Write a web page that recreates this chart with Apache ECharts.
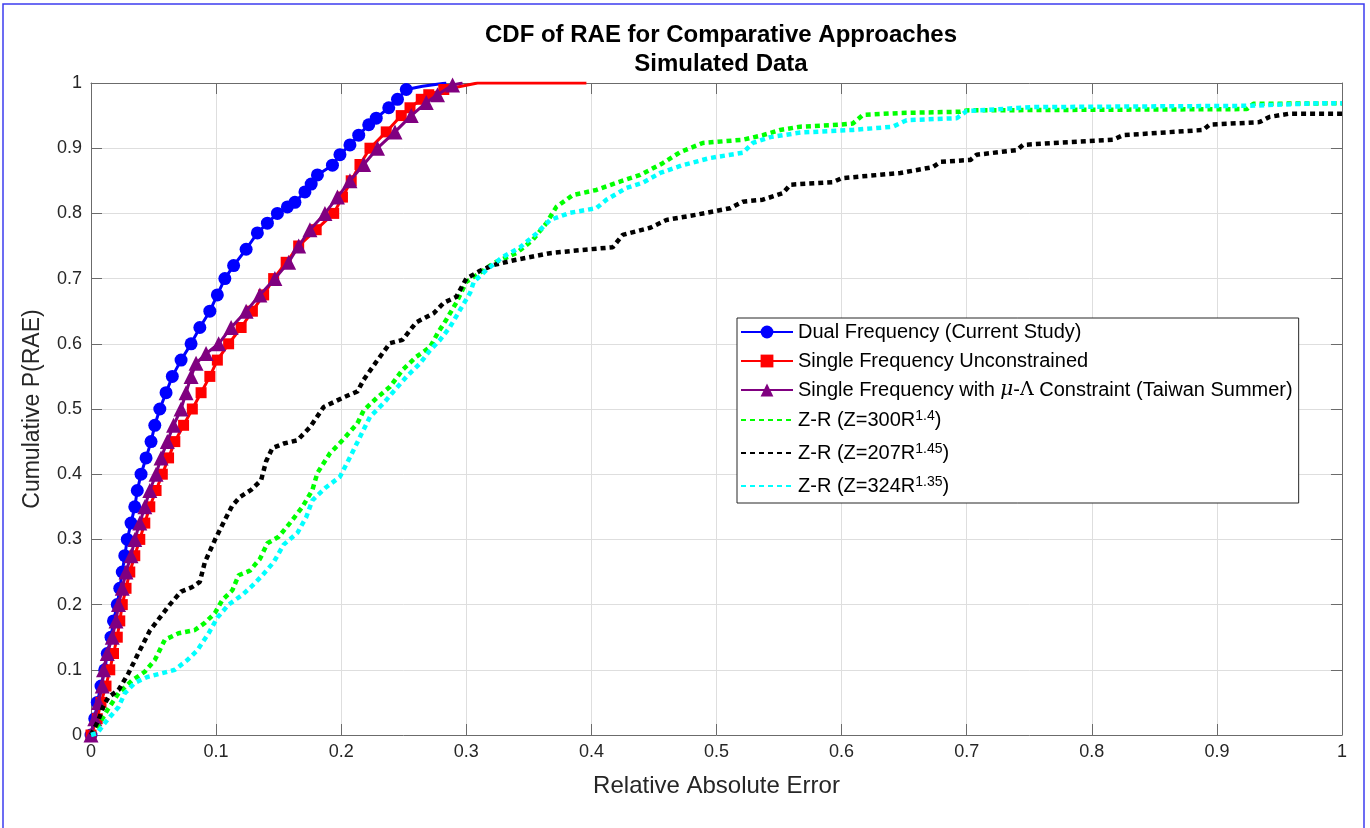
<!DOCTYPE html>
<html>
<head>
<meta charset="utf-8">
<script src="https://cdn.jsdelivr.net/npm/echarts@6/dist/echarts.min.js"></script>
<style>
html,body{margin:0;padding:0;background:#fff;}
#c{width:1370px;height:828px;}
</style>
</head>
<body>
<div id="c"></div>
<script>
// ---------------- data (x = Relative Absolute Error, y = Cumulative P) ----------------
const xTicks = [0, 0.1, 0.2, 0.3, 0.4, 0.5, 0.6, 0.7, 0.8, 0.9, 1];
const yTicks = [0, 0.1, 0.2, 0.3, 0.4, 0.5, 0.6, 0.7, 0.8, 0.9, 1];

const seriesNames = [
  'Dual Frequency (Current Study)',
  'Single Frequency Unconstrained',
  'Single Frequency with μ-Λ Constraint (Taiwan Summer)',
  'Z-R (Z=300R^1.4)',
  'Z-R (Z=207R^1.45)',
  'Z-R (Z=324R^1.35)'
];

const dualFreq = [
  [0,0],[0.003,0.025],[0.005,0.05],[0.008,0.075],[0.011,0.1],[0.013,0.125],[0.016,0.15],[0.018,0.175],
  [0.021,0.2],[0.023,0.225],[0.025,0.25],[0.027,0.275],[0.029,0.3],[0.032,0.325],[0.035,0.35],[0.037,0.375],
  [0.040,0.4],[0.044,0.425],[0.048,0.45],[0.051,0.475],[0.055,0.5],[0.060,0.525],[0.065,0.55],[0.072,0.575],
  [0.080,0.6],[0.087,0.625],[0.095,0.65],[0.101,0.675],[0.107,0.7],[0.114,0.72],[0.124,0.745],[0.133,0.77],
  [0.141,0.785],[0.149,0.8],[0.157,0.81],[0.163,0.817],[0.171,0.833],[0.176,0.845],[0.181,0.859],[0.193,0.874],
  [0.199,0.89],[0.207,0.905],[0.214,0.92],[0.222,0.936],[0.228,0.946],[0.238,0.962],[0.245,0.975],[0.252,0.99],
  [0.265,0.995],[0.284,1.0]
];

const singleUncon = [
  [0,0],[0.005,0.025],[0.008,0.05],[0.012,0.075],[0.015,0.1],[0.018,0.125],[0.021,0.15],[0.023,0.175],
  [0.025,0.2],[0.028,0.225],[0.031,0.25],[0.035,0.275],[0.039,0.3],[0.043,0.325],[0.047,0.35],[0.052,0.375],
  [0.057,0.4],[0.062,0.425],[0.067,0.45],[0.074,0.475],[0.081,0.5],[0.088,0.525],[0.095,0.55],[0.101,0.575],
  [0.110,0.6],[0.120,0.625],[0.129,0.65],[0.138,0.675],[0.146,0.7],[0.156,0.725],[0.166,0.75],[0.180,0.775],
  [0.194,0.8],[0.201,0.825],[0.208,0.85],[0.215,0.875],[0.223,0.9],[0.236,0.925],[0.248,0.95],[0.255,0.962],
  [0.264,0.975],[0.270,0.982],[0.282,0.99],[0.293,0.994],[0.309,1.0],[0.396,1.0]
];

const singleMuLambda = [
  [0,0],[0.003,0.025],[0.006,0.05],[0.009,0.075],[0.010,0.1],[0.013,0.125],[0.017,0.15],[0.020,0.175],
  [0.022,0.2],[0.025,0.225],[0.028,0.25],[0.032,0.275],[0.035,0.3],[0.039,0.325],[0.043,0.35],[0.047,0.375],
  [0.052,0.4],[0.056,0.425],[0.061,0.45],[0.066,0.475],[0.072,0.5],[0.076,0.525],[0.080,0.55],[0.084,0.57],
  [0.092,0.585],[0.102,0.6],[0.112,0.625],[0.124,0.65],[0.135,0.675],[0.147,0.7],[0.158,0.725],[0.166,0.75],
  [0.175,0.775],[0.187,0.8],[0.197,0.825],[0.207,0.85],[0.218,0.875],[0.229,0.9],[0.243,0.925],[0.256,0.95],
  [0.268,0.97],[0.277,0.982],[0.289,0.997],[0.297,1.0]
];

const zr300 = [
  [0,0],[0.006,0.015],[0.013,0.038],[0.022,0.064],[0.033,0.084],[0.043,0.097],[0.051,0.115],[0.059,0.146],
  [0.070,0.156],[0.083,0.161],[0.091,0.172],[0.099,0.187],[0.105,0.207],[0.113,0.222],[0.118,0.245],[0.127,0.252],
  [0.135,0.270],[0.141,0.294],[0.150,0.304],[0.159,0.325],[0.169,0.350],[0.177,0.376],[0.181,0.402],[0.191,0.432],
  [0.201,0.452],[0.213,0.478],[0.218,0.498],[0.229,0.518],[0.239,0.534],[0.249,0.560],[0.260,0.580],[0.271,0.595],
  [0.277,0.616],[0.284,0.637],[0.292,0.663],[0.300,0.695],[0.311,0.709],[0.322,0.724],[0.340,0.739],[0.353,0.759],
  [0.364,0.785],[0.372,0.810],[0.385,0.828],[0.404,0.836],[0.420,0.847],[0.439,0.859],[0.457,0.877],[0.471,0.894],
  [0.489,0.908],[0.521,0.913],[0.537,0.920],[0.551,0.928],[0.567,0.933],[0.599,0.936],[0.609,0.938],[0.617,0.951],
  [0.647,0.954],[0.695,0.956],[0.700,0.958],[0.924,0.960],[0.929,0.968],[1.0,0.969]
];

const zr207 = [
  [0,0],[0.006,0.023],[0.010,0.045],[0.014,0.058],[0.022,0.069],[0.030,0.095],[0.038,0.126],[0.047,0.160],
  [0.055,0.180],[0.063,0.200],[0.072,0.220],[0.081,0.227],[0.087,0.235],[0.091,0.265],[0.099,0.299],[0.107,0.330],
  [0.113,0.352],[0.119,0.365],[0.128,0.376],[0.136,0.391],[0.140,0.420],[0.145,0.440],[0.154,0.447],[0.165,0.452],
  [0.175,0.472],[0.186,0.503],[0.202,0.518],[0.213,0.527],[0.218,0.545],[0.229,0.575],[0.239,0.601],[0.249,0.606],
  [0.260,0.633],[0.274,0.647],[0.282,0.663],[0.292,0.672],[0.300,0.700],[0.311,0.712],[0.322,0.721],[0.340,0.729],
  [0.367,0.739],[0.393,0.744],[0.417,0.748],[0.425,0.767],[0.447,0.778],[0.460,0.790],[0.484,0.798],[0.511,0.808],
  [0.521,0.818],[0.537,0.821],[0.553,0.831],[0.559,0.844],[0.593,0.848],[0.600,0.854],[0.647,0.862],[0.673,0.871],
  [0.679,0.879],[0.703,0.882],[0.708,0.890],[0.740,0.897],[0.745,0.905],[0.769,0.908],[0.817,0.913],[0.825,0.920],
  [0.889,0.928],[0.894,0.936],[0.934,0.940],[0.942,0.948],[0.958,0.953],[1.0,0.953]
];

const zr324 = [
  [0,0],[0.005,0.003],[0.013,0.023],[0.022,0.043],[0.027,0.064],[0.035,0.080],[0.045,0.089],[0.057,0.095],
  [0.067,0.100],[0.077,0.115],[0.085,0.130],[0.094,0.156],[0.101,0.180],[0.110,0.200],[0.121,0.215],[0.129,0.229],
  [0.137,0.245],[0.146,0.265],[0.154,0.292],[0.165,0.310],[0.172,0.334],[0.177,0.360],[0.188,0.380],[0.199,0.396],
  [0.207,0.426],[0.215,0.457],[0.223,0.488],[0.234,0.509],[0.241,0.525],[0.252,0.549],[0.263,0.570],[0.271,0.590],
  [0.279,0.606],[0.287,0.626],[0.295,0.652],[0.303,0.678],[0.306,0.695],[0.316,0.713],[0.329,0.733],[0.343,0.748],
  [0.356,0.769],[0.367,0.790],[0.383,0.801],[0.404,0.808],[0.412,0.821],[0.428,0.839],[0.441,0.847],[0.455,0.862],
  [0.473,0.874],[0.495,0.885],[0.521,0.893],[0.529,0.908],[0.543,0.917],[0.567,0.924],[0.609,0.928],[0.641,0.933],
  [0.652,0.943],[0.692,0.946],[0.700,0.957],[0.753,0.963],[0.924,0.965],[0.982,0.969],[1.0,0.969]
];

// ---------------- chart ----------------
const chart = echarts.init(document.getElementById('c'), null, {renderer: 'canvas'});
const FONT = 'Liberation Sans, Arial, Helvetica, sans-serif';
const AX = '#262626';
const AXLINE = '#6b6b6b';

// markers are drawn up to these x positions (tails are plain lines)
function withMarkers(arr, lastMarkerX) {
  return arr.map(p => p[0] <= lastMarkerX ? p : {value: p, symbol: 'none'});
}

function legendLabel(name) {
  if (name.indexOf('μ-Λ') >= 0) {
    return '{t|Single Frequency with }{m|μ}{t|-}{g|Λ}{t| Constraint (Taiwan Summer)}';
  }
  const m = name.match(/^(.*R)\^([\d.]+)\)$/);
  if (m) return '{t|' + m[1] + '}{s|' + m[2] + '}{t|)}';
  return '{t|' + name + '}';
}

const legendData = seriesNames.map((n, i) => i < 3 ? n : {name: n, itemStyle: {opacity: 0}});

const option = {
  animation: false,
  backgroundColor: '#ffffff',
  title: {
    text: 'CDF of RAE for Comparative Approaches\nSimulated Data',
    left: 716, top: 16, textAlign: 'center',
    textStyle: {fontFamily: FONT, fontSize: 24, fontWeight: 'bold', color: '#000', lineHeight: 29}
  },
  graphic: [{
    type: 'rect', silent: true, z: 100,
    shape: {x: 3, y: 4, width: 1361, height: 840},
    style: {fill: 'none', stroke: '#3c3cf0', lineWidth: 1.5}
  }],
  grid: {left: 91, right: 28, top: 83, bottom: 93, containLabel: false},
  legend: {
    orient: 'vertical', left: 737, top: 318,
    backgroundColor: '#fff', borderColor: '#262626', borderWidth: 1,
    padding: [4, 6, 4, 3], itemGap: 9, itemWidth: 52, itemHeight: 16,
    data: legendData,
    formatter: legendLabel,
    textStyle: {
      fontFamily: FONT, fontSize: 20, color: '#000',
      rich: {
        t: {fontFamily: FONT, fontSize: 20, color: '#000', lineHeight: 22},
        m: {fontFamily: 'DejaVu Serif, Liberation Serif, serif', fontStyle: 'italic', fontSize: 20, color: '#000', lineHeight: 22},
        g: {fontFamily: 'DejaVu Serif, Liberation Serif, serif', fontSize: 19, color: '#000', lineHeight: 22},
        s: {fontFamily: FONT, fontSize: 14, color: '#000', verticalAlign: 'top', lineHeight: 14, padding: [0, 0, 10, 0]}
      }
    }
  },
  xAxis: [{
    type: 'value', min: 0, max: 1, interval: 0.1,
    name: 'Relative Absolute Error', nameLocation: 'middle', nameGap: 39,
    nameTextStyle: {fontFamily: FONT, fontSize: 24, color: AX},
    axisLine: {show: true, onZero: false, lineStyle: {color: AXLINE, width: 1}},
    axisTick: {show: true, inside: true, length: 11, lineStyle: {color: AXLINE}},
    axisLabel: {fontFamily: FONT, fontSize: 18, color: AX, margin: 8,
      formatter: v => String(xTicks[Math.round(v * 10)])},
    splitLine: {show: true, lineStyle: {color: '#dedede', width: 1}}
  }, {
    type: 'value', min: 0, max: 1, interval: 0.1, position: 'top',
    axisLine: {show: true, onZero: false, lineStyle: {color: AXLINE, width: 1}},
    axisTick: {show: true, inside: true, length: 11, lineStyle: {color: AXLINE}},
    axisLabel: {show: false}, splitLine: {show: false}
  }],
  yAxis: [{
    type: 'value', min: 0, max: 1, interval: 0.1,
    name: 'Cumulative P(RAE)', nameLocation: 'middle', nameGap: 47, nameRotate: 90,
    nameTextStyle: {fontFamily: FONT, fontSize: 23, color: AX},
    axisLine: {show: true, onZero: false, lineStyle: {color: AXLINE, width: 1}},
    axisTick: {show: true, inside: true, length: 11, lineStyle: {color: AXLINE}},
    axisLabel: {fontFamily: FONT, fontSize: 18, color: AX, margin: 9,
      formatter: v => String(yTicks[Math.round(v * 10)])},
    splitLine: {show: true, lineStyle: {color: '#dedede', width: 1}}
  }, {
    type: 'value', min: 0, max: 1, interval: 0.1, position: 'right',
    axisLine: {show: true, onZero: false, lineStyle: {color: AXLINE, width: 1}},
    axisTick: {show: true, inside: true, length: 11, lineStyle: {color: AXLINE}},
    axisLabel: {show: false}, splitLine: {show: false}
  }],
  series: [
    {
      name: seriesNames[0], type: 'line', data: withMarkers(dualFreq, 0.255),
      symbol: 'circle', symbolSize: 13, showAllSymbol: true, z: 3,
      lineStyle: {color: '#0000ff', width: 3}, itemStyle: {color: '#0000ff'}
    },
    {
      name: seriesNames[1], type: 'line', data: withMarkers(singleUncon, 0.283),
      symbol: 'rect', symbolSize: 11, showAllSymbol: true, z: 4,
      lineStyle: {color: '#ff0000', width: 3}, itemStyle: {color: '#ff0000'}
    },
    {
      name: seriesNames[2], type: 'line', data: withMarkers(singleMuLambda, 0.29),
      symbol: 'triangle', symbolSize: 15, showAllSymbol: true, z: 5,
      lineStyle: {color: '#800080', width: 3}, itemStyle: {color: '#800080'}
    },
    {
      name: seriesNames[3], type: 'line', data: zr300, symbol: 'none', z: 6,
      lineStyle: {color: '#00ff00', width: 4.5, type: [5, 4], cap: 'butt'}, itemStyle: {color: '#00ff00'}
    },
    {
      name: seriesNames[4], type: 'line', data: zr207, symbol: 'none', z: 7,
      lineStyle: {color: '#000000', width: 4.5, type: [5, 4], cap: 'butt'}, itemStyle: {color: '#000000'}
    },
    {
      name: seriesNames[5], type: 'line', data: zr324, symbol: 'none', z: 8,
      lineStyle: {color: '#00ffff', width: 4.5, type: [5, 4], cap: 'butt'}, itemStyle: {color: '#00ffff'}
    }
  ]
};
chart.setOption(option);
</script>
</body>
</html>
